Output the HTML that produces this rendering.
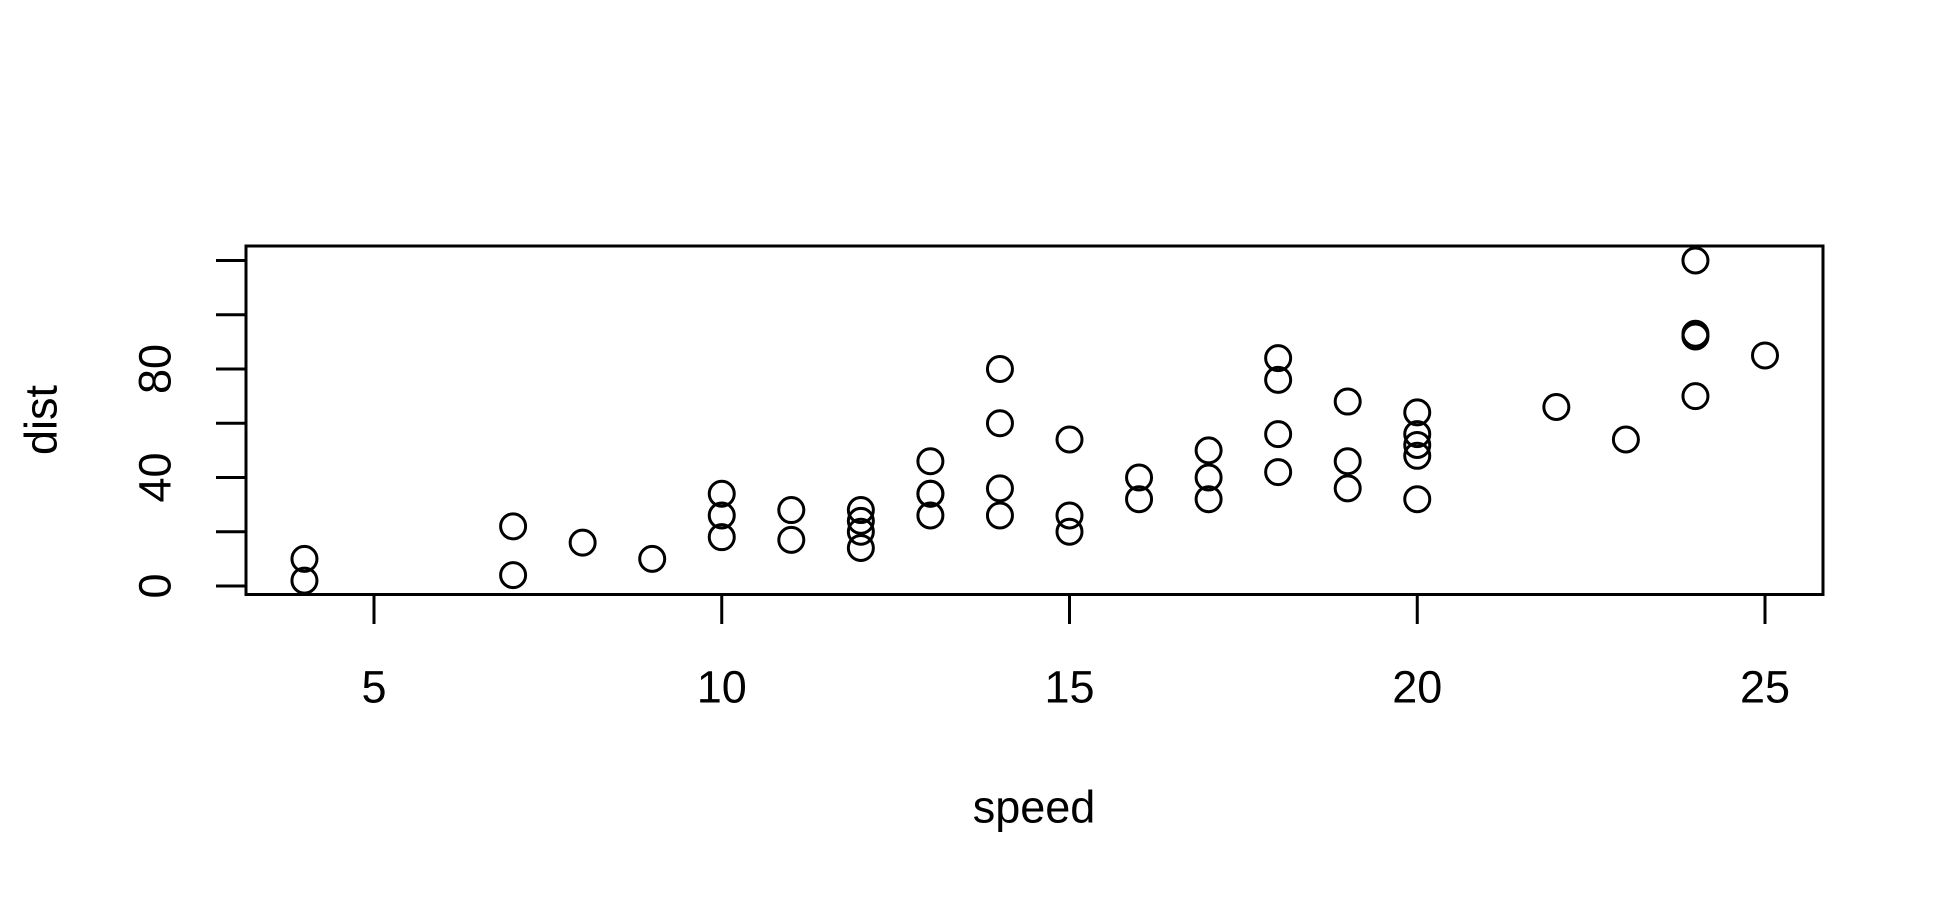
<!DOCTYPE html>
<html><head><meta charset="utf-8"><style>
html,body{margin:0;padding:0;background:#fff;}
svg{display:block;font-family:"Liberation Sans",Arial,sans-serif;}
</style></head><body>
<svg id="chart" width="1950" height="900" viewBox="0 0 1950 900">
<rect x="246" y="246" width="1577" height="348.5" fill="none" stroke="#000" stroke-width="3"/>
<g id="xaxis"></g>
<g id="yaxis"></g>
<g id="points"></g>
<text x="1034" y="807" font-size="45" text-anchor="middle" dominant-baseline="central">speed</text>
<text x="0" y="0" font-size="45" text-anchor="middle" dominant-baseline="central" transform="translate(41,420) rotate(-90)">dist</text>
</svg>
<script>
const speed=[4,4,7,7,8,9,10,10,10,11,11,12,12,12,12,13,13,13,13,14,14,14,14,15,15,15,16,16,17,17,17,18,18,18,18,19,19,19,20,20,20,20,20,22,23,24,24,24,24,25];
const dist=[2,10,4,22,16,10,18,26,34,17,28,14,20,24,28,26,34,34,46,26,36,60,80,20,26,54,32,40,32,40,50,42,56,76,84,36,46,68,32,48,52,56,64,66,54,70,92,93,120,85];
const xTicks=[5,10,15,20,25];
const yTicks=[0,20,40,60,80,100,120];
const yLabels=["0","","40","","80","",""];
const NS="http://www.w3.org/2000/svg";
function xs(v){return 374+(v-5)*(1765-374)/20;}
function ys(v){return 586-(v)*(586-369)/80;}
function mk(t,a,p){const e=document.createElementNS(NS,t);for(const k in a)e.setAttribute(k,a[k]);p.appendChild(e);return e;}
const xa=document.getElementById('xaxis'),ya=document.getElementById('yaxis'),pg=document.getElementById('points');
mk('line',{x1:xs(5),x2:xs(25),y1:594.5,y2:594.5,stroke:'#000','stroke-width':3},xa);
xTicks.forEach(v=>{
 const l=mk('line',{x1:xs(v),x2:xs(v),y1:594.5,y2:624,stroke:'#000','stroke-width':3},xa);
 
 
 const t=mk('text',{x:xs(v),y:687,'font-size':45,'text-anchor':'middle','dominant-baseline':'central'},xa);t.textContent=v;
 
 
});
mk('line',{x1:246,x2:246,y1:ys(0),y2:ys(120),stroke:'#000','stroke-width':3},ya);
yTicks.forEach((v,i)=>{
 const l=mk('line',{x1:216,x2:246,y1:ys(v),y2:ys(v),stroke:'#000','stroke-width':3},ya);
 
 
 if(yLabels[i]){
  const t=mk('text',{x:0,y:0,'font-size':45,'text-anchor':'middle','dominant-baseline':'central',transform:`translate(155,${ys(v)}) rotate(-90)`},ya);t.textContent=yLabels[i];
  
  
 }
});
speed.forEach((s,i)=>{
 const c=mk('circle',{cx:xs(s),cy:ys(dist[i]),r:12.5,fill:'none',stroke:'#000','stroke-width':3},pg);
 
 
});
</script>
</body></html>
